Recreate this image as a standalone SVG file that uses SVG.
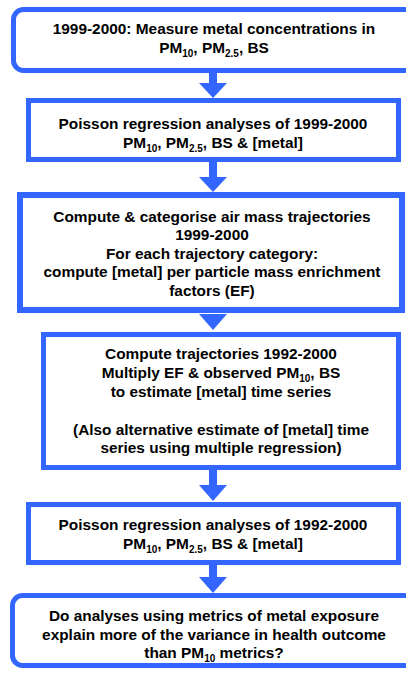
<svg xmlns="http://www.w3.org/2000/svg" width="406" height="689" viewBox="0 0 406 689">
  <style>
    .box { fill: #ffffff; stroke: #3366ff; stroke-width: 5; }
    .arrow { fill: #3366ff; }
    text { font-family: "Liberation Sans", Arial, sans-serif; font-weight: bold; font-size: 15.4px; fill: #000000; text-anchor: middle; }
    .sub { font-size: 10px; }
  </style>
  <rect width="406" height="689" fill="#ffffff"/>

  <!-- connectors: down arrows between steps -->
  <g id="connectors">
    <path class="arrow" d="M209,72 H217 V83 H227 L213,98 L199,83 H209 Z"/>
    <path class="arrow" d="M209,161 H217 V177 H227 L213,192 L199,177 H209 Z"/>
    <path class="arrow" d="M199,314 H227 L213,330 Z"/>
    <path class="arrow" d="M209,469 H217 V485 H227 L213,501 L199,485 H209 Z"/>
    <path class="arrow" d="M209,564 H217 V577 H227 L213,593 L199,577 H209 Z"/>
  </g>

  <g id="step1">
    <rect class="box" x="13.5" y="9.5" width="404" height="61" rx="10"/>
    <text x="214" y="34">1999-2000: Measure metal concentrations in</text>
    <text x="214" y="53">PM<tspan class="sub" dy="4">10</tspan><tspan dy="-4">, PM</tspan><tspan class="sub" dy="4">2.5</tspan><tspan dy="-4">, BS</tspan></text>
  </g>

  <g id="step2">
    <rect class="box" x="28.5" y="100.5" width="370" height="59"/>
    <text x="213" y="129">Poisson regression analyses of 1999-2000</text>
    <text x="213" y="148">PM<tspan class="sub" dy="4">10</tspan><tspan dy="-4">, PM</tspan><tspan class="sub" dy="4">2.5</tspan><tspan dy="-4">, BS &amp; [metal]</tspan></text>
  </g>

  <g id="step3">
    <rect class="box" x="20" y="195" width="382" height="115" style="stroke-width:6"/>
    <text x="212" y="222">Compute &amp; categorise air mass trajectories</text>
    <text x="212" y="240">1999-2000</text>
    <text x="212" y="258.5">For each trajectory category:</text>
    <text x="212" y="277">compute [metal] per particle mass enrichment</text>
    <text x="212" y="295.5">factors (EF)</text>
  </g>

  <g id="step4">
    <rect class="box" x="43.5" y="334.5" width="355" height="133"/>
    <text x="221" y="359">Compute trajectories 1992-2000</text>
    <text x="221" y="378">Multiply EF &amp; observed PM<tspan class="sub" dy="4">10</tspan><tspan dy="-4">, BS</tspan></text>
    <text x="221" y="397">to estimate [metal] time series</text>
    <text x="221" y="435">(Also alternative estimate of [metal] time</text>
    <text x="221" y="453">series using multiple regression)</text>
  </g>

  <g id="step5">
    <rect class="box" x="28.5" y="504.5" width="370" height="58"/>
    <text x="213" y="530">Poisson regression analyses of 1992-2000</text>
    <text x="213" y="549">PM<tspan class="sub" dy="4">10</tspan><tspan dy="-4">, PM</tspan><tspan class="sub" dy="4">2.5</tspan><tspan dy="-4">, BS &amp; [metal]</tspan></text>
  </g>

  <g id="question">
    <rect class="box" x="12.5" y="595.5" width="405" height="70" rx="10"/>
    <text x="214" y="621">Do analyses using metrics of metal exposure</text>
    <text x="214" y="640">explain more of the variance in health outcome</text>
    <text x="214" y="658">than PM<tspan class="sub" dy="4">10</tspan><tspan dy="-4"> metrics?</tspan></text>
  </g>
</svg>
